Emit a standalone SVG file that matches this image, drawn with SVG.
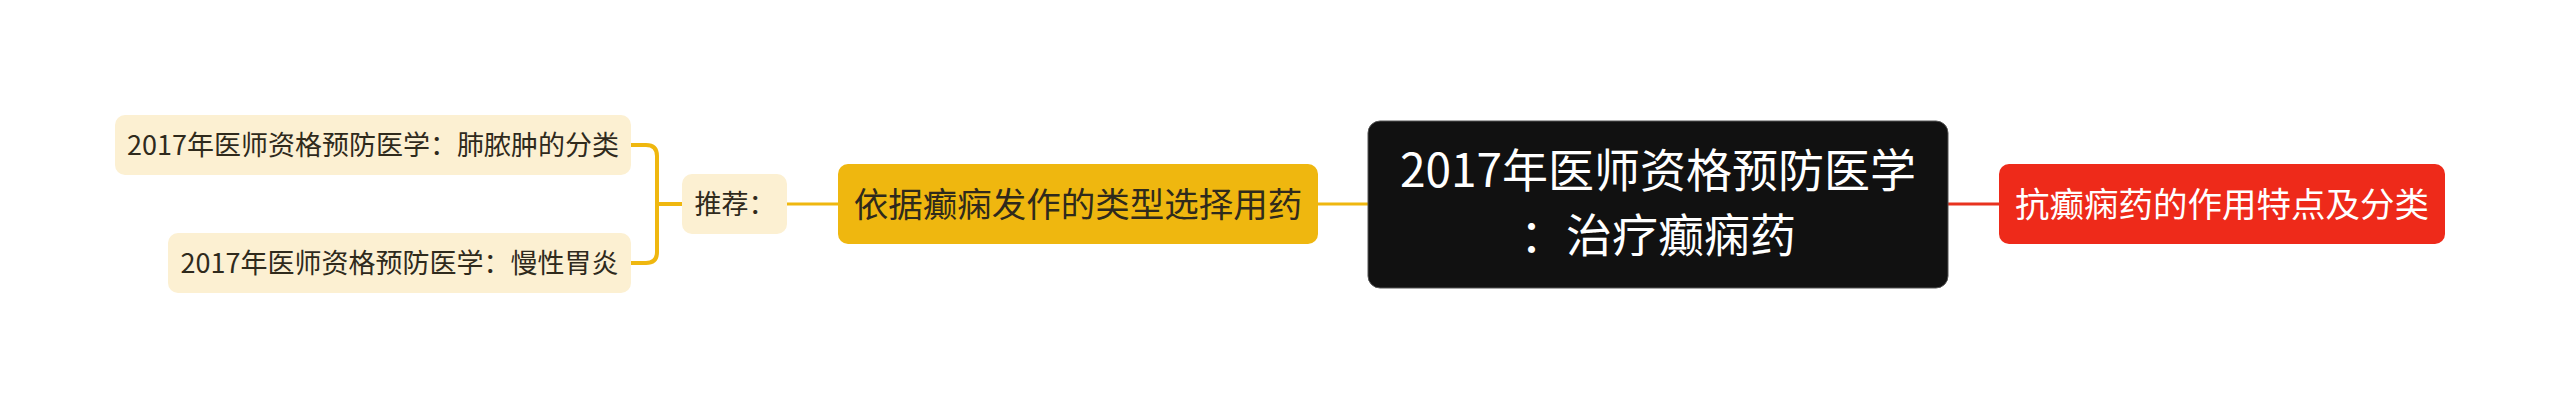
<svg xmlns="http://www.w3.org/2000/svg" width="2560" height="409" viewBox="0 0 2560 409">
<style>
.t{font-family:"Noto Sans CJK SC","Microsoft YaHei",sans-serif;text-anchor:middle}
.leaf rect{fill:#FCF0D2}
.leaf text{fill:#2F2A1C;font-size:27px}
.mid rect{fill:#EFB70F}
.mid text{fill:#2F2A1C;font-size:34.5px}
.root rect{fill:#111111;stroke:#555555;stroke-width:1}
.root text{fill:#FFFFFF;font-size:46px}
.red rect{fill:#EE2A1A}
.red text{fill:#FFFFFF;font-size:34.5px}
.cy{fill:none;stroke:#EFB70F}
.cr{fill:none;stroke:#E8321F}
</style>
<rect width="2560" height="409" fill="#FFFFFF"/>
<g id="connectors">
<path class="cy" stroke-width="4" d="M631 145 H646 Q657 145 657 156 V252 Q657 263 646 263 H631"/>
<path class="cy" stroke-width="4" d="M657 204 H682"/>
<path class="cy" stroke-width="3" d="M787 204 H838"/>
<path class="cy" stroke-width="3" d="M1318 204 H1368"/>
<path class="cr" stroke-width="3" d="M1948 204 H1999"/>
</g>
<g id="node-leaf1" class="leaf">
<rect x="115" y="115" width="516" height="60" rx="10"/>
<text class="t" x="373" y="155">2017年医师资格预防医学：肺脓肿的分类</text>
</g>
<g id="node-leaf2" class="leaf">
<rect x="168" y="233" width="463" height="60" rx="10"/>
<text class="t" x="399.5" y="273">2017年医师资格预防医学：慢性胃炎</text>
</g>
<g id="node-tuijian" class="leaf">
<rect x="682" y="174" width="105" height="60" rx="10"/>
<text class="t" x="735" y="214">推荐：</text>
</g>
<g id="node-yiju" class="mid">
<rect x="838" y="164" width="480" height="80" rx="10"/>
<text class="t" x="1078" y="216.5">依据癫痫发作的类型选择用药</text>
</g>
<g id="node-root" class="root">
<rect x="1368" y="121" width="580" height="167" rx="12"/>
<text class="t" x="1658" y="187">2017年医师资格预防医学</text>
<text class="t" x="1658" y="252">：治疗癫痫药</text>
</g>
<g id="node-kang" class="red">
<rect x="1999" y="164" width="446" height="80" rx="10"/>
<text class="t" x="2222" y="216.5">抗癫痫药的作用特点及分类</text>
</g>
</svg>
